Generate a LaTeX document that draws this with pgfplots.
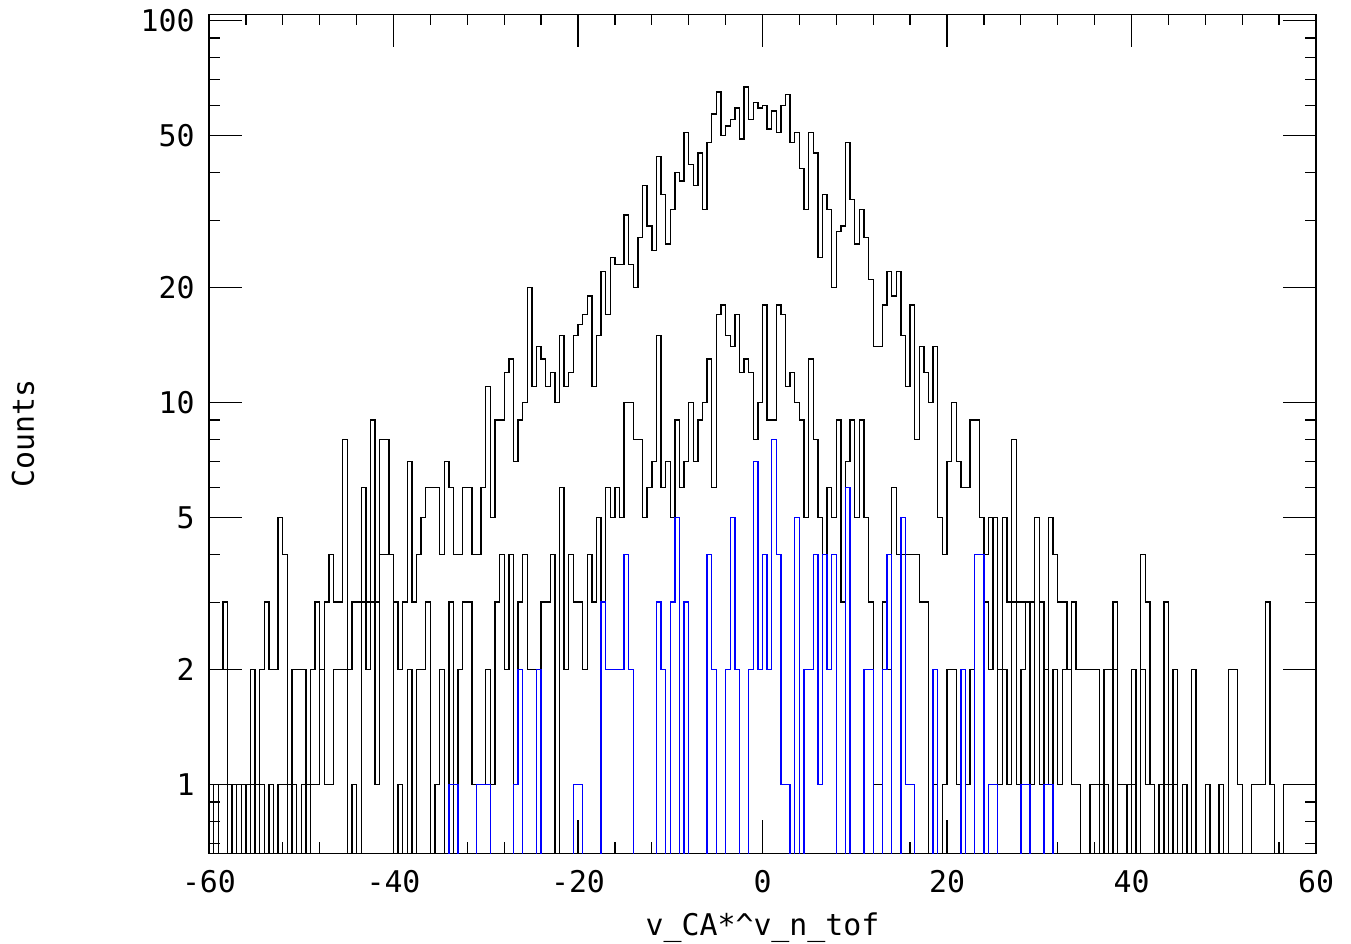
\documentclass[border=0pt]{standalone}
\usepackage{pgfplots}
\pgfplotsset{compat=1.18}
\usepackage{pgfplotstable}
\usepackage{fontspec}
\setmainfont{DejaVu Sans Mono}

\pgfplotstableread{
x A B C
-60 2 1 0
-59.5 2 0 0
-59 2 1 0
-58.5 3 1 0
-58 1 0 0
-57.5 1 1 0
-57 1 0 0
-56.5 1 1 0
-56 1 0 0
-55.5 2 1 0
-55 1 0 0
-54.5 2 1 0
-54 3 0 0
-53.5 2 1 0
-53 2 0 0
-52.5 5 1 0
-52 4 1 0
-51.5 1 0 0
-51 2 1 0
-50.5 2 0 0
-50 2 1 0
-49.5 1 0 0
-49 2 1 0
-48.5 3 1 0
-48 2 2 0
-47.5 3 1 0
-47 4 1 0
-46.5 3 2 0
-46 3 2 0
-45.5 8 2 0
-45 2 0 0
-44.5 3 1 0
-44 3 0 0
-43.5 6 3 0
-43 3 2 0
-42.5 9 3 0
-42 3 1 0
-41.5 8 4 0
-41 8 4 0
-40.5 4 4 0
-40 3 0 0
-39.5 2 1 0
-39 3 0 0
-38.5 7 2 0
-38 3 0 0
-37.5 4 2 0
-37 5 2 0
-36.5 6 3 0
-36 6 0 0
-35.5 6 1 0
-35 4 2 0
-34.5 7 0 0
-34 6 3 1
-33.5 4 0 1
-33 4 2 0
-32.5 6 3 0
-32 6 3 0
-31.5 4 1 0
-31 4 1 1
-30.5 6 1 1
-30 11 2 1
-29.5 5 1 0
-29 9 3 0
-28.5 9 4 0
-28 12 2 0
-27.5 13 4 0
-27 7 1 1
-26.5 9 3 2
-26 10 4 0
-25.5 20 2 0
-25 11 2 0
-24.5 14 2 2
-24 13 3 0
-23.5 11 3 0
-23 12 4 0
-22.5 10 0 0
-22 15 6 0
-21.5 11 2 0
-21 12 4 0
-20.5 15 3 1
-20 16 3 1
-19.5 17 2 0
-19 19 4 0
-18.5 11 3 0
-18 15 5 0
-17.5 22 3 3
-17 17 6 2
-16.5 24 5 2
-16 23 6 2
-15.5 23 5 2
-15 31 10 4
-14.5 23 10 2
-14 20 8 0
-13.5 27 8 0
-13 37 5 0
-12.5 29 6 0
-12 25 7 0
-11.5 44 15 3
-11 35 6 2
-10.5 26 7 0
-10 32 5 3
-9.5 40 9 5
-9 38 6 0
-8.5 51 7 3
-8 42 10 0
-7.5 37 7 0
-7 45 9 0
-6.5 32 10 0
-6 48 13 4
-5.5 57 6 2
-5 65 17 0
-4.5 50 18 0
-4 53 15 2
-3.5 55 14 5
-3 59 17 2
-2.5 49 12 0
-2 67 13 0
-1.5 55 12 2
-1 61 8 7
-0.5 59 10 2
0 60 18 4
0.5 52 9 2
1 58 9 8
1.5 51 18 4
2 60 17 1
2.5 64 11 1
3 48 12 0
3.5 51 10 5
4 41 9 0
4.5 32 5 2
5 51 13 2
5.5 45 8 4
6 24 5 1
6.5 35 4 4
7 32 6 2
7.5 20 5 4
8 28 9 0
8.5 29 3 0
9 48 7 6
9.5 34 9 0
10 26 5 0
10.5 32 9 0
11 27 5 2
11.5 21 3 2
12 14 1 0
12.5 14 1 0
13 18 3 2
13.5 22 2 4
14 19 6 0
14.5 22 4 0
15 15 4 5
15.5 11 4 1
16 18 4 1
16.5 8 4 0
17 14 3 0
17.5 12 3 0
18 10 0 0
18.5 14 1 2
19 5 0 0
19.5 4 1 0
20 7 2 0
20.5 10 2 0
21 7 1 0
21.5 6 2 2
22 6 1 0
22.5 9 2 0
23 9 4 4
23.5 5 4 4
24 4 3 0
24.5 5 2 1
25 5 5 1
25.5 2 1 0
26 5 2 0
26.5 3 1 0
27 8 3 0
27.5 3 1 0
28 3 2 1
28.5 3 3 1
29 3 1 0
29.5 5 5 0
30 3 1 0
30.5 2 2 1
31 5 1 1
31.5 4 2 0
32 3 1 0
32.5 3 2 0
33 2 2 0
33.5 3 1 0
34 2 1 0
34.5 2 0 0
35 2 0 0
35.5 2 1 0
36 2 1 0
36.5 1 0 0
37 2 1 0
37.5 2 0 0
38 3 2 0
38.5 1 0 0
39 1 0 0
39.5 0 1 0
40 2 1 0
40.5 0 0 0
41 4 2 0
41.5 3 1 0
42 1 1 0
42.5 0 0 0
43 1 0 0
43.5 3 1 0
44 1 0 0
44.5 2 1 0
45 0 0 0
45.5 1 0 0
46 0 0 0
46.5 2 0 0
47 0 0 0
47.5 0 0 0
48 1 0 0
48.5 0 0 0
49 0 0 0
49.5 1 0 0
50 0 0 0
50.5 2 0 0
51 2 0 0
51.5 1 0 0
52 0 0 0
52.5 0 0 0
53 1 0 0
53.5 1 0 0
54 1 0 0
54.5 3 0 0
55 1 0 0
55.5 0 0 0
56 0 0 0
56.5 1 0 0
57 1 0 0
57.5 1 0 0
58 1 0 0
58.5 1 0 0
59 1 0 0
59.5 1 0 0
60 1 0 0
}\hist

\begin{document}
\begin{tikzpicture}[font=\fontsize{15}{18}\selectfont]
\path[use as bounding box] (-104.5bp,-45.35bp) rectangle (571bp,426.65bp);
\begin{axis}[
  at={(0,0)}, anchor=south west,
  scale only axis, width=553.5bp, height=419.5bp,
  ymode=log, xmin=-60, xmax=60, ymin=0.66, ymax=103.9,
  xtick={-60,-40,-20,0,20,40,60},
  xticklabels={-60,-40,-20,0,20,40,60},
  minor xtick={-56,-52,-48,-44,-36,-32,-28,-24,-16,-12,-8,-4,4,8,12,16,24,28,32,36,44,48,52,56},
  ytick={1,2,5,10,20,50,100},
  yticklabels={1,2,5,10,20,50,100},
  minor ytick={0.7,0.8,0.9,3,4,6,7,8,9,30,40,60,70,80,90},
  tick align=inside, tick pos=both, ticklabel pos=left,
  major tick length=16.5bp, minor tick length=5.5bp,
  every tick/.style={black, line width=0.65bp},
  axis line style={line width=0.75bp},
  xticklabel style={anchor=base, yshift=-19.5bp, inner sep=0pt},
  yticklabel style={anchor=east, xshift=-7bp, inner sep=0pt},
  xlabel={v\_CA*\textasciicircum v\_n\_tof},
  ylabel={Counts},
  xlabel style={at={(axis description cs:0.5,0)}, anchor=base, yshift=-41bp},
  ylabel style={at={(axis description cs:0,0.5)}, anchor=base, yshift=87.5bp},
  clip=true,
]
\addplot[const plot, black, line width=0.7bp] table[x=x, y expr={max(\thisrow{A},0.1)}] {\hist};
\addplot[const plot, black, line width=0.7bp] table[x=x, y expr={max(\thisrow{B},0.1)}] {\hist};
\addplot[const plot, blue, line width=0.7bp] table[x=x, y expr={max(\thisrow{C},0.1)}] {\hist};
\end{axis}
\end{tikzpicture}
\end{document}
